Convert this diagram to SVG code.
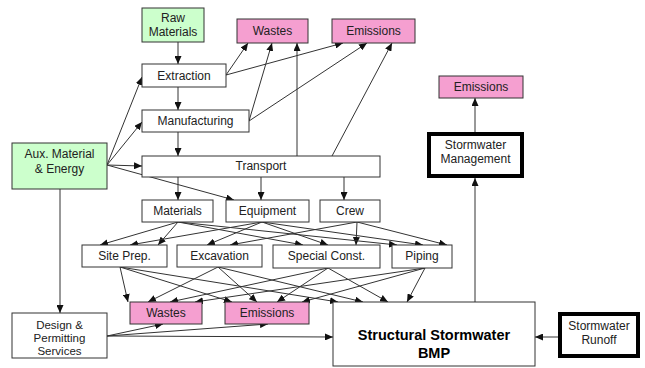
<svg xmlns="http://www.w3.org/2000/svg" width="645" height="368" viewBox="0 0 645 368">
<defs>
<style>
.b{fill:#fff;stroke:#333;stroke-width:1}
.g{fill:#ccffcc;stroke:#333;stroke-width:1}
.p{fill:#f59fd0;stroke:#333;stroke-width:1}
.k{fill:#fff;stroke:#000;stroke-width:4}
text{font-family:"Liberation Sans",Arial,sans-serif;font-size:12px;fill:#222;text-anchor:middle}
.sm{font-size:11.5px}
.big{font-size:14.5px;font-weight:bold;fill:#000}
.c line{stroke:#333;stroke-width:1;marker-end:url(#a)}
</style>
<marker id="a" markerUnits="userSpaceOnUse" markerWidth="8" markerHeight="7" refX="8" refY="3.5" orient="auto">
<path d="M0,0 L8,3.5 L0,7 z" fill="#111"/>
</marker>
</defs>
<rect width="645" height="368" fill="#fff"/>
<g class="c" id="connectors">
<line x1="178" y1="42" x2="178" y2="64"/>
<line x1="178" y1="87" x2="178" y2="110"/>
<line x1="178" y1="132" x2="178" y2="156"/>
<line x1="178" y1="177" x2="178" y2="200"/>
<line x1="261" y1="177" x2="261" y2="200"/>
<line x1="344" y1="177" x2="344" y2="200"/>
<line x1="107" y1="165" x2="142" y2="77"/>
<line x1="107" y1="165" x2="142" y2="122"/>
<line x1="107" y1="165" x2="142" y2="166"/>
<line x1="107" y1="165" x2="234" y2="200"/>
<line x1="60" y1="189" x2="60" y2="313"/>
<line x1="226" y1="75" x2="248" y2="43"/>
<line x1="226" y1="75" x2="343" y2="43"/>
<line x1="249" y1="121" x2="272" y2="43"/>
<line x1="249" y1="121" x2="367" y2="43"/>
<line x1="297" y1="156" x2="297" y2="43"/>
<line x1="332" y1="156" x2="392" y2="43"/>
<line x1="178" y1="222" x2="100" y2="245"/>
<line x1="178" y1="222" x2="158" y2="245"/>
<line x1="262" y1="222" x2="130" y2="245"/>
<line x1="262" y1="222" x2="207" y2="245"/>
<line x1="357" y1="222" x2="230" y2="245"/>
<line x1="178" y1="222" x2="303" y2="245"/>
<line x1="262" y1="222" x2="328" y2="245"/>
<line x1="357" y1="222" x2="356" y2="245"/>
<line x1="178" y1="222" x2="397" y2="245"/>
<line x1="262" y1="222" x2="423" y2="245"/>
<line x1="357" y1="222" x2="447" y2="245"/>
<line x1="120" y1="267" x2="128" y2="302"/>
<line x1="120" y1="267" x2="232" y2="302"/>
<line x1="120" y1="267" x2="338" y2="302"/>
<line x1="218" y1="267" x2="148" y2="302"/>
<line x1="218" y1="267" x2="257" y2="302"/>
<line x1="218" y1="267" x2="363" y2="302"/>
<line x1="328" y1="268" x2="170" y2="302"/>
<line x1="328" y1="268" x2="277" y2="302"/>
<line x1="328" y1="268" x2="388" y2="302"/>
<line x1="425" y1="268" x2="195" y2="302"/>
<line x1="425" y1="268" x2="302" y2="302"/>
<line x1="425" y1="268" x2="407" y2="302"/>
<line x1="107" y1="336" x2="163" y2="324"/>
<line x1="107" y1="336" x2="268" y2="324"/>
<line x1="107" y1="336" x2="333" y2="337"/>
<line x1="558" y1="337" x2="535" y2="337"/>
<line x1="475" y1="302" x2="475" y2="178"/>
<line x1="475" y1="132" x2="475" y2="98"/>
</g>
<g id="raw"><rect class="g" x="142" y="8" width="62" height="34"/><text x="173" y="22">Raw</text><text x="173" y="36">Materials</text></g>
<g id="wastes1"><rect class="p" x="237" y="19" width="71" height="24"/><text x="272.5" y="35">Wastes</text></g>
<g id="emissions1"><rect class="p" x="332" y="19" width="83" height="24"/><text x="373.5" y="35">Emissions</text></g>
<g id="extraction"><rect class="b" x="142" y="64" width="84" height="23"/><text x="184" y="80">Extraction</text></g>
<g id="manufacturing"><rect class="b" x="142" y="110" width="107" height="22"/><text x="195.5" y="125">Manufacturing</text></g>
<g id="transport"><rect class="b" x="142" y="156" width="238" height="21"/><text x="261" y="170">Transport</text></g>
<g id="aux"><rect class="g" x="12" y="143" width="95" height="46"/><text x="59.5" y="158">Aux. Material</text><text x="59.5" y="173">&amp; Energy</text></g>
<g id="materials"><rect class="b" x="142" y="200" width="71" height="22"/><text x="177.5" y="215">Materials</text></g>
<g id="equipment"><rect class="b" x="226" y="200" width="83" height="22"/><text x="267.5" y="215">Equipment</text></g>
<g id="crew"><rect class="b" x="320" y="200" width="60" height="22"/><text x="350" y="215">Crew</text></g>
<g id="siteprep"><rect class="b" x="82" y="245" width="85" height="22"/><text x="124.5" y="260">Site Prep.</text></g>
<g id="excavation"><rect class="b" x="177" y="245" width="85" height="22"/><text x="219.5" y="260">Excavation</text></g>
<g id="special"><rect class="b" x="273" y="245" width="107" height="23"/><text x="326.5" y="260">Special Const.</text></g>
<g id="piping"><rect class="b" x="392" y="245" width="60" height="23"/><text x="422" y="260">Piping</text></g>
<g id="wastes2"><rect class="p" x="130" y="302" width="72" height="22"/><text x="166" y="317">Wastes</text></g>
<g id="emissions2"><rect class="p" x="225" y="302" width="84" height="22"/><text x="267" y="317">Emissions</text></g>
<g id="design"><rect class="b" x="12" y="313" width="95" height="45"/><text class="sm" x="59.5" y="328.5">Design &amp;</text><text class="sm" x="59.5" y="341.5">Permitting</text><text class="sm" x="59.5" y="354.5">Services</text></g>
<g id="bmp"><rect class="b" x="333" y="302" width="202" height="64"/><text class="big" x="434" y="340">Structural Stormwater</text><text class="big" x="434" y="358">BMP</text></g>
<g id="runoff"><rect class="k" x="560" y="314" width="78" height="42"/><text x="599" y="330">Stormwater</text><text x="599" y="344">Runoff</text></g>
<g id="management"><rect class="k" x="429" y="134" width="93" height="42"/><text x="475.5" y="149">Stormwater</text><text x="475.5" y="163">Management</text></g>
<g id="emissions3"><rect class="p" x="439" y="76" width="84" height="22"/><text x="481" y="91">Emissions</text></g>
</svg>
